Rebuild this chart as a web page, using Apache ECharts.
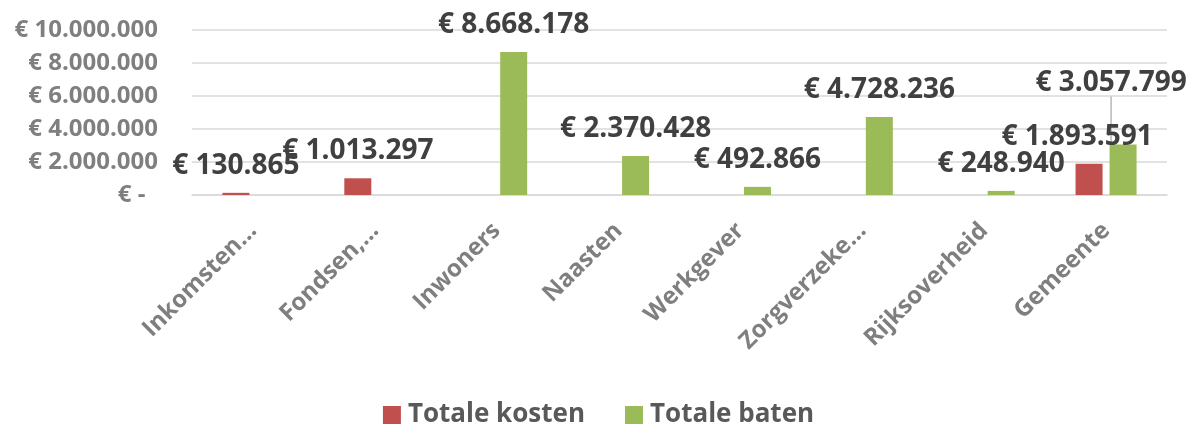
<!DOCTYPE html>
<html>
<head>
<meta charset="utf-8">
<script src="https://cdn.jsdelivr.net/npm/echarts@6/dist/echarts.min.js"></script>
<style>
  html, body { margin: 0; padding: 0; background: #fff; }
  #chart { width: 1197px; height: 435px; }
</style>
</head>
<body>
<div id="chart"></div>
<script>
// categorieen (afgekapt zoals in de grafiek)
var categories = ['Inkomsten…', 'Fondsen,…', 'Inwoners', 'Naasten', 'Werkgever', 'Zorgverzeke…', 'Rijksoverheid', 'Gemeente'];
var kosten = [130865, 1013297, null, null, null, null, null, 1893591];
var baten = [null, null, 8668178, 2370428, 492866, 4728236, 248940, 3057799];
var yTicks = [0, 2000000, 4000000, 6000000, 8000000, 10000000];

function euro(v) {
  if (!v) return '€ -  ';
  return '€ ' + String(v).replace(/\B(?=(\d{3})+(?!\d))/g, '.');
}

var chart = echarts.init(document.getElementById('chart'));

var labelStyle = {
  show: true,
  position: 'top',
  distance: 13,
  fontFamily: 'Open Sans',
  fontWeight: 'bold',
  fontSize: 28,
  color: '#404040',
  formatter: function (p) { return euro(p.value); }
};

// alleen het verplaatste label van Gemeente krijgt een verbindingslijn
var batenData = baten.map(function (v, i) {
  if (i === 7) {
    return { value: v, labelLine: { show: true, lineStyle: { color: '#a6a6a6', width: 1.2 } } };
  }
  return v;
});

chart.setOption({
  animation: false,
  legend: {
    bottom: 2,
    left: 'center',
    itemWidth: 18,
    itemHeight: 18,
    itemGap: 40,
    icon: 'rect',
    textStyle: { fontFamily: 'Open Sans', fontWeight: 'bold', fontSize: 26, color: '#595959', padding: [0, 0, 0, 2] }
  },
  grid: { left: 192, right: 30, top: 30, bottom: 240, containLabel: false },
  xAxis: {
    type: 'category',
    data: categories,
    axisLine: { lineStyle: { color: '#d9d9d9', width: 1.5 } },
    axisTick: { show: false },
    axisLabel: {
      interval: 0,
      rotate: 45,
      margin: 32,
      fontFamily: 'Open Sans',
      fontWeight: 'bold',
      fontSize: 24,
      color: '#7f7f7f'
    }
  },
  yAxis: {
    type: 'value',
    min: yTicks[0],
    max: yTicks[yTicks.length - 1],
    interval: 2000000,
    axisLine: { show: false },
    axisTick: { show: false },
    splitLine: { lineStyle: { color: '#d9d9d9', width: 1.5 } },
    axisLabel: {
      margin: 34,
      fontFamily: 'Open Sans',
      fontWeight: 'bold',
      fontSize: 24,
      color: '#7f7f7f',
      formatter: euro
    }
  },
  series: [
    {
      name: 'Totale kosten',
      type: 'bar',
      data: kosten,
      barWidth: 27,
      barGap: '26%',
      itemStyle: { color: '#c0504d' },
      label: labelStyle,
      labelLayout: function (p) {
        if (p.dataIndex === 7) return { dx: -12 };
        return {};
      }
    },
    {
      name: 'Totale baten',
      type: 'bar',
      data: batenData,
      barWidth: 27,
      itemStyle: { color: '#9bbb59' },
      label: labelStyle,
      labelLayout: function (p) {
        if (p.dataIndex === 7) return { dx: -12, dy: -35 };
        return {};
      }
    }
  ]
});
</script>
</body>
</html>
